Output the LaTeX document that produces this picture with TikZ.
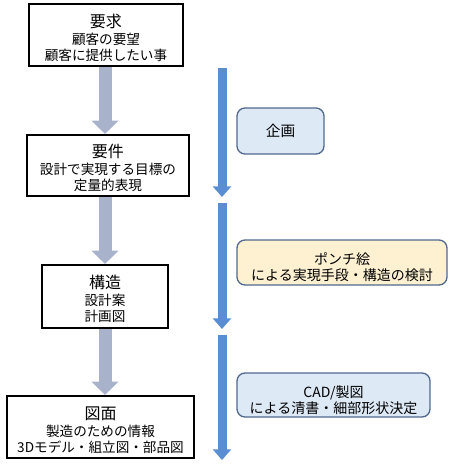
\documentclass[tikz,border=0pt]{standalone}
\usepackage{fontspec}
\setmainfont{Noto Sans CJK JP}
\usetikzlibrary{arrows.meta,positioning}

\definecolor{flowgray}{HTML}{A8B3CB}
\definecolor{flowblue}{HTML}{5A8ED2}
\definecolor{paleblue}{HTML}{DEE9F6}
\definecolor{paleyellow}{HTML}{FDF1D2}
\definecolor{boxedge}{HTML}{51698E}

\tikzset{
  stage/.style={draw=black,line width=1.5pt,fill=white,align=center,inner sep=0pt},
  phase/.style={draw=boxedge,line width=1pt,rounded corners=6pt,align=center,inner sep=0pt},
  grayflow/.style={draw=flowgray,line width=9.75pt,-{Triangle[width=19.5pt,length=10pt]}},
  blueflow/.style={draw=flowblue,line width=6.75pt,-{Triangle[width=13.5pt,length=8pt]}},
}
% title line (with a strut that pushes the block down a little) and sub lines
\newcommand{\ttl}[1]{{\fontsize{12}{13}\selectfont\rule{0pt}{14pt}#1}}
\newcommand{\sub}{\fontsize{10.2}{12.2}\selectfont}
\newcommand{\ptl}[1]{{\fontsize{10.5}{13.5}\selectfont\rule{0pt}{16pt}#1}}

\begin{document}
\begin{tikzpicture}[x=0.75pt,y=-0.75pt]
  \useasboundingbox (0,0) rectangle (450,465);
  % left column: design stages
  \node[stage,minimum width=115.5pt,minimum height=46.5pt] (req) at (106,35)
    {\ttl{要求}\\[1pt]\sub 顧客の要望\\\sub 顧客に提供したい事};
  \node[stage,minimum width=121.5pt,minimum height=45.75pt] (spec) at (108,165.5)
    {\ttl{要件}\\[1pt]\sub 設計で実現する目標の\\\sub 定量的表現};
  \node[stage,minimum width=94.5pt,minimum height=47.25pt] (struct) at (105,296.5)
    {\ttl{構造}\\[1pt]\sub 設計案\\\sub 計画図};
  \node[stage,minimum width=140.25pt,minimum height=46.5pt] (dwg) at (100.5,427)
    {\ttl{図面}\\[1pt]\sub 製造のための情報\\\sub 3Dモデル・組立図・部品図};
  % gray arrows between stages
  \draw[grayflow] (req.south -| 105,0) -- (spec.north -| 105,0);
  \draw[grayflow] (spec.south -| 105,0) -- (struct.north -| 105,0);
  \draw[grayflow] (struct.south -| 105,0) -- (dwg.north -| 105,0);
  % right column: phases
  \coordinate (p1a) at (222,68);  \coordinate (p1b) at (222,197);
  \coordinate (p2a) at (222,203); \coordinate (p2b) at (222,329);
  \coordinate (p3a) at (222,335); \coordinate (p3b) at (222,460);
  \draw[blueflow] (p1a) -- (p1b);
  \draw[blueflow] (p2a) -- (p2b);
  \draw[blueflow] (p3a) -- (p3b);
  \node[phase,fill=paleblue,minimum width=65.25pt,minimum height=34.5pt] (plan) at (280.5,131)
    {\fontsize{11}{13}\selectfont 企画};
  \node[phase,fill=paleyellow,minimum width=157.5pt,minimum height=33.75pt] (sketch) at (342,262.5)
    {\ptl{ポンチ絵}\\\fontsize{10.5}{13.5}\selectfont による実現手段・構造の検討};
  \node[phase,fill=paleblue,minimum width=144.75pt,minimum height=33pt] (cad) at (333.5,395)
    {\ptl{CAD/製図}\\\fontsize{10.5}{13.5}\selectfont による清書・細部形状決定};
\end{tikzpicture}
\end{document}
